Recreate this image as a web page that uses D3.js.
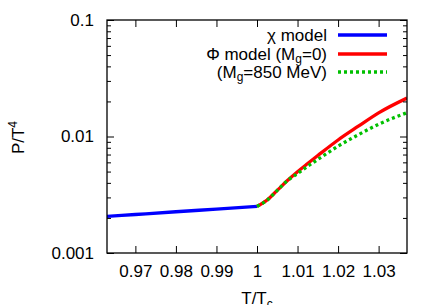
<!DOCTYPE html>
<html>
<head>
<meta charset="utf-8">
<script src="https://cdn.jsdelivr.net/npm/d3@7"></script>
<style>
  body { margin: 0; background: #fff; }
  text { font-family: "Liberation Sans", Arial, sans-serif; }
</style>
</head>
<body>
<div id="chart"></div>
<script>
// values
const chiT   = [0.963, 0.97, 0.98, 0.99, 1.0];
const chiP   = [0.00206, 0.00214, 0.00226, 0.00238, 0.00251];

const phiT   = [1.0, 1.0025, 1.005, 1.0075, 1.01, 1.0125, 1.015, 1.02, 1.025, 1.03, 1.037];
const phiP   = [0.00251, 0.00285, 0.00345, 0.00419, 0.00499, 0.00586, 0.00686, 0.00933, 0.01225, 0.01596, 0.02138];

const mgT    = [1.0, 1.0025, 1.005, 1.0075, 1.01, 1.0125, 1.015, 1.02, 1.025, 1.03, 1.037];
const mgP    = [0.00251, 0.00284, 0.00345, 0.00418, 0.00481, 0.00555, 0.00635, 0.00826, 0.01035, 0.01274, 0.0160];

const xTicks = [0.97, 0.98, 0.99, 1, 1.01, 1.02, 1.03];
const xTickLabels = ["0.97", "0.98", "0.99", "1", "1.01", "1.02", "1.03"];
const yTicks = [0.001, 0.01, 0.1];
const yTickLabels = ["0.001", "0.01", "0.1"];

const W = 436, H = 305;
const margin = {top: 20, right: 29, bottom: 52, left: 107};

const svg = d3.select("#chart").append("svg")
  .attr("width", W).attr("height", H);

const x = d3.scaleLinear()
  .domain([0.963, 1.037])
  .range([margin.left, W - margin.right]);

const y = d3.scaleLog()
  .domain([0.001, 0.1])
  .range([H - margin.bottom, margin.top]);

// minor log ticks
const yMinor = [];
[0.001, 0.01].forEach(d => { for (let k = 2; k <= 9; k++) yMinor.push(d * k); });

svg.append("defs").append("clipPath").attr("id", "clip")
  .append("rect")
  .attr("x", margin.left).attr("y", margin.top)
  .attr("width", W - margin.left - margin.right)
  .attr("height", H - margin.top - margin.bottom);

const line = d3.line()
  .x(d => x(d[0]))
  .y(d => y(d[1]))
  .curve(d3.curveMonotoneX);

const plot = svg.append("g").attr("clip-path", "url(#clip)");

plot.append("path")
  .datum(d3.zip(chiT, chiP))
  .attr("d", line)
  .attr("fill", "none").attr("stroke", "#0000ff").attr("stroke-width", 3.3);

plot.append("path")
  .datum(d3.zip(phiT, phiP))
  .attr("d", line)
  .attr("fill", "none").attr("stroke", "#ff0000").attr("stroke-width", 3.3);

plot.append("path")
  .datum(d3.zip(mgT, mgP))
  .attr("d", line)
  .attr("fill", "none").attr("stroke", "#00c000").attr("stroke-width", 3.3)
  .attr("stroke-dasharray", "3,3");

// axes, gnuplot style ticks pointing inward
function styleAxis(g) {
  g.select(".domain").remove();
  g.selectAll(".tick line").attr("stroke", "#000").attr("stroke-width", 1);
  g.selectAll(".tick text").attr("font-size", 17).attr("fill", "#000")
    .style("font-family", "'Liberation Sans', Arial, sans-serif");
}

svg.append("g")
  .attr("transform", `translate(0,${H - margin.bottom})`)
  .call(d3.axisBottom(x).tickValues(xTicks)
    .tickFormat((d, i) => xTickLabels[i]).tickSizeInner(-7).tickSizeOuter(0).tickPadding(12))
  .call(styleAxis);

svg.append("g")
  .attr("transform", `translate(0,${margin.top})`)
  .call(d3.axisTop(x).tickValues(xTicks).tickFormat("").tickSizeInner(-7).tickSizeOuter(0))
  .call(styleAxis);

svg.append("g")
  .attr("transform", `translate(${margin.left},0)`)
  .call(d3.axisLeft(y).tickValues(yTicks)
    .tickFormat((d, i) => yTickLabels[i]).tickSizeInner(-7).tickSizeOuter(0).tickPadding(13))
  .call(styleAxis);

svg.append("g")
  .attr("transform", `translate(${margin.left},0)`)
  .call(d3.axisLeft(y).tickValues(yMinor).tickFormat("").tickSizeInner(-4).tickSizeOuter(0))
  .call(styleAxis);

svg.append("g")
  .attr("transform", `translate(${W - margin.right},0)`)
  .call(d3.axisRight(y).tickValues(yTicks).tickFormat("").tickSizeInner(-7).tickSizeOuter(0))
  .call(styleAxis);

svg.append("g")
  .attr("transform", `translate(${W - margin.right},0)`)
  .call(d3.axisRight(y).tickValues(yMinor).tickFormat("").tickSizeInner(-4).tickSizeOuter(0))
  .call(styleAxis);

// frame
svg.append("rect")
  .attr("x", margin.left).attr("y", margin.top)
  .attr("width", W - margin.left - margin.right)
  .attr("height", H - margin.top - margin.bottom)
  .attr("fill", "none").attr("stroke", "#000").attr("stroke-width", 1.3);

// axis labels
const xl = svg.append("text")
  .attr("x", x(1)).attr("y", H - 1)
  .attr("text-anchor", "middle").attr("font-size", 17);
xl.append("tspan").text("T/T");
xl.append("tspan").attr("font-size", 12).attr("dy", 4).text("c");

const yl = svg.append("text")
  .attr("transform", `translate(24,${(margin.top + H - margin.bottom) / 2 + 1}) rotate(-90)`)
  .attr("text-anchor", "middle").attr("font-size", 17);
yl.append("tspan").text("P/T");
yl.append("tspan").attr("font-size", 12).attr("dy", -7).text("4");

// legend
const legend = [
  {parts: [["χ model", 0]], color: "#0000ff", dash: null},
  {parts: [["Φ model (M", 0], ["g", 1], ["=0)", 0]], color: "#ff0000", dash: null},
  {parts: [["(M", 0], ["g", 1], ["=850 MeV)", 0]], color: "#00c000", dash: "3,3"}
];
const legY = [35, 54, 72];
legend.forEach((item, i) => {
  const t = svg.append("text")
    .attr("x", 327).attr("y", legY[i] + 6)
    .attr("text-anchor", "end").attr("font-size", 17);
  let sub = false;
  item.parts.forEach(([s, isSub]) => {
    const ts = t.append("tspan").text(s);
    if (isSub && !sub) { ts.attr("font-size", 12).attr("dy", 3); sub = true; }
    else if (!isSub && sub) { ts.attr("dy", -3); sub = false; }
  });
  svg.append("line")
    .attr("x1", 338).attr("x2", 387)
    .attr("y1", legY[i]).attr("y2", legY[i])
    .attr("stroke", item.color).attr("stroke-width", 3.3)
    .attr("stroke-dasharray", item.dash);
});
</script>
</body>
</html>
